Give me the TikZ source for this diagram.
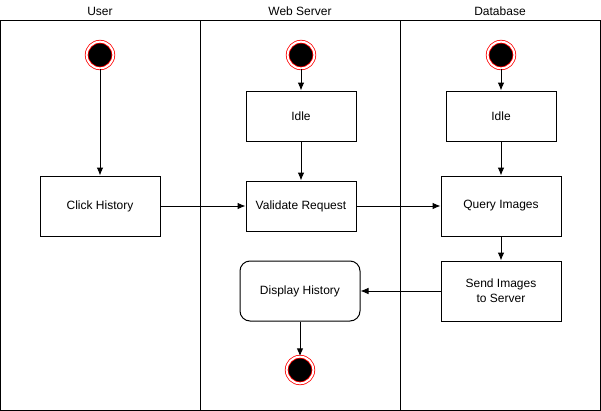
\documentclass[tikz,border=0pt]{standalone}
\usepackage{fontspec}
\setmainfont{Liberation Sans}
\usetikzlibrary{arrows.meta}
\begin{document}
\begin{tikzpicture}[
      x=0.75pt, y=-0.75pt,
      line width=0.75pt,
      font=\fontsize{9}{11}\selectfont,
      act/.style={draw, minimum width=90pt, minimum height=45pt,
                  align=center, text=black},
      idle/.style={draw, minimum width=82.5pt, minimum height=37.5pt},
      startpt/.style={circle, draw=red, fill=black, double=white,
                      double distance=1.5pt, line width=0.6pt,
                      minimum size=20pt, inner sep=0pt},
      flow/.style={-{Latex[length=6pt,width=5pt]}}
    ]
      \useasboundingbox (0,0) rectangle (601,411);
      % swimlanes
      \draw (0.5,20.5) rectangle (600,410);
      \foreach \xx/\lane in {100/User,300/Web Server,500/Database} {
        \node (head-\lane) at (\xx,11) {\lane};
      }
      \draw (200,20.5) -- (200,410);
      \draw (400,20.5) -- (400,410);
      % user lane
      \node[startpt] (userstart) at (100,55) {};
      \node[act] (click) at (100,206) {Click History};
      % web server lane
      \node[startpt] (webstart) at (301,55) {};
      \node[idle] (webidle) at (301,116) {Idle};
      \node[idle] (validate) at (301,206) {Validate Request};
      \node[act, rounded corners=7.5pt] (display) at (300,291) {Display History};
      \node[startpt] (webend) at (300,370) {};
      % database lane
      \node[startpt] (dbstart) at (501,55) {};
      \node[idle] (dbidle) at (501,116) {Idle};
      \node[act] (query) at (501,206) {Query Images};
      \node[act] (send) at (501,291) {Send Images\\to Server};
      % flows
      \draw[flow] (userstart) -- (click);
      \draw[flow] (webstart) -- (webidle);
      \draw[flow] (webidle) -- (validate);
      \draw[flow] (click) -- (validate);
      \draw[flow] (validate) -- (query);
      \draw[flow] (dbstart) -- (dbidle);
      \draw[flow] (dbidle) -- (query);
      \draw[flow] (query) -- (send);
      \draw[flow] (send) -- (display);
      \draw[flow] (display) -- (webend);
    \end{tikzpicture}
\end{document}
